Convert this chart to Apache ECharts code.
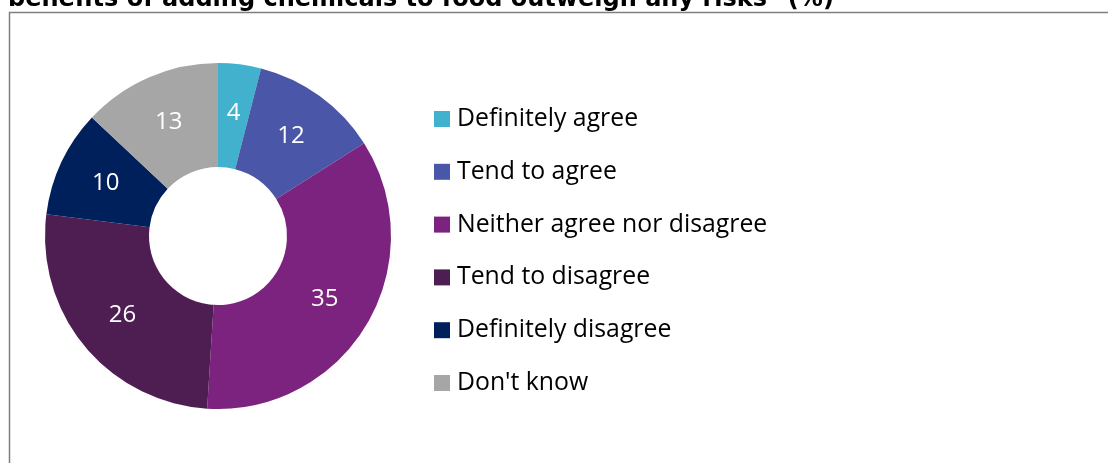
<!DOCTYPE html>
<html>
<head>
<meta charset="utf-8">
<script src="https://cdn.jsdelivr.net/npm/echarts@6/dist/echarts.min.js"></script>
<style>
  html, body { margin: 0; padding: 0; background: #ffffff; }
  #chart { width: 1108px; height: 463px; }
</style>
</head>
<body>
<div id="chart"></div>
<script>
// Survey responses (%)
const categories = ['Definitely agree', 'Tend to agree', 'Neither agree nor disagree', 'Tend to disagree', 'Definitely disagree', "Don't know"];
const values = [4, 12, 35, 26, 10, 13];
const colors = ['#41B1CD', '#4A56A8', '#7B237E', '#4E1D52', '#00205B', '#A6A6A6'];
const titleText = 'benefits of adding chemicals to food outweigh any risks" (%)';

const chart = echarts.init(document.getElementById('chart'), null, { renderer: 'canvas' });

chart.setOption({
  animation: false,
  backgroundColor: '#ffffff',
  color: colors,
  graphic: [
    {
      type: 'rect',
      z: 0,
      shape: { x: 9.5, y: 12.5, width: 1200, height: 600 },
      style: { fill: 'none', stroke: '#7f7f7f', lineWidth: 1.5 }
    },
    {
      type: 'text',
      z: 5,
      x: 8,
      y: -12,
      style: {
        text: titleText,
        fill: '#000000',
        fontFamily: '"DejaVu Sans", Verdana, sans-serif',
        fontWeight: 'bold',
        fontSize: 24
      }
    }
  ],
  legend: {
    orient: 'vertical',
    left: 429,
    top: 101.5,
    icon: 'rect',
    itemWidth: 16,
    itemHeight: 16,
    itemGap: 27.8,
    selectedMode: false,
    data: categories,
    textStyle: {
      fontFamily: '"Open Sans", sans-serif',
      fontSize: 24.8,
      lineHeight: 24,
      color: '#000000',
      padding: [0, 0, 0, 2]
    }
  },
  series: [
    {
      type: 'pie',
      center: [218, 236],
      radius: [69, 173],
      startAngle: 90,
      clockwise: true,
      avoidLabelOverlap: false,
      silent: true,
      itemStyle: { borderWidth: 0 },
      label: {
        show: true,
        position: 'inside',
        formatter: '{c}',
        color: '#ffffff',
        fontFamily: '"Open Sans", sans-serif',
        fontSize: 24
      },
      labelLine: { show: false },
      data: categories.map((name, i) => ({ name: name, value: values[i] }))
    }
  ]
});
</script>
</body>
</html>
